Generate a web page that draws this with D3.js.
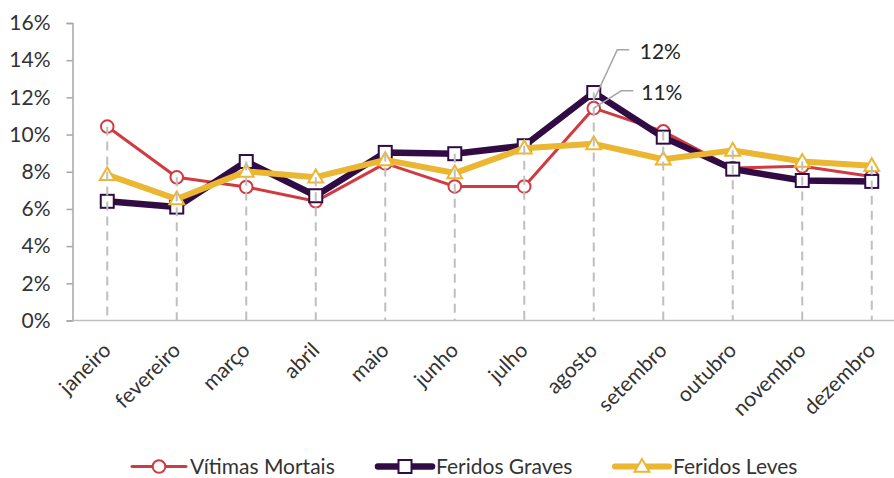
<!DOCTYPE html>
<html lang="pt">
<head>
<meta charset="UTF-8">
<title>Vítimas por mês</title>
<script src="https://d3js.org/d3.v7.min.js"></script>
<style>
    body { margin: 0; background: #fff; }
    svg { display: block; font-family: Lato, "Open Sans", sans-serif; }
</style>
</head>
<body>
<div id="chart"></div>
<script>
// months on the x axis
var meses = ['janeiro', 'fevereiro', 'março', 'abril', 'maio', 'junho',
             'julho', 'agosto', 'setembro', 'outubro', 'novembro', 'dezembro'];

// share of the year, in %
var vitimasMortais = [10.43, 7.70, 7.18, 6.41, 8.45, 7.21, 7.21, 11.42, 10.17, 8.20, 8.29, 7.75];
var feridosGraves  = [6.41, 6.10, 8.55, 6.71, 9.04, 8.97, 9.40, 12.26, 9.86, 8.14, 7.53, 7.48];
var feridosLeves   = [7.84, 6.53, 8.02, 7.71, 8.64, 7.93, 9.27, 9.50, 8.67, 9.15, 8.55, 8.32];

var yTicks = [0, 2, 4, 6, 8, 10, 12, 14, 16];

var w = 894, h = 478;
var m = {top: 23, left: 72.5, bottom: 157.5};

var series = [
    {name: 'Vítimas Mortais', values: vitimasMortais, color: '#d13a41', width: 3, marker: 'circle'},
    {name: 'Feridos Graves', values: feridosGraves, color: '#310c44', width: 6.5, marker: 'square'},
    {name: 'Feridos Leves', values: feridosLeves, color: '#ebb631', width: 6, marker: 'triangle'}
];

var svg = d3.select('#chart').append('svg')
    .attr('width', w)
    .attr('height', h);

var x = d3.scaleBand()
    .domain(meses)
    .range([m.left, m.left + 69.5 * 12]);

var y = d3.scaleLinear()
    .domain([0, 16])
    .range([h - m.bottom, m.top]);

function cx(i) { return x(meses[i]) + x.bandwidth() / 2; }

// y axis
var yAxis = d3.axisLeft(y)
    .tickValues(yTicks)
    .tickSize(6)
    .tickPadding(16)
    .tickFormat(function(d) { return d + '%'; });

var gy = svg.append('g')
    .attr('transform', 'translate(' + m.left + ',0)')
    .call(yAxis);
gy.select('.domain').attr('stroke', '#a6a6a6').attr('stroke-width', 1.5);
gy.selectAll('.tick line').attr('stroke', '#a6a6a6').attr('stroke-width', 1.5);
gy.selectAll('.tick text')
    .attr('font-size', '21px')
    .attr('font-family', 'Lato, sans-serif')
    .attr('fill', '#333');

// x axis line, runs off the right edge
svg.append('line')
    .attr('x1', m.left).attr('x2', w)
    .attr('y1', y(0)).attr('y2', y(0))
    .attr('stroke', '#bfbfbf')
    .attr('stroke-width', 1.5);

// month labels
svg.append('g').selectAll('text')
    .data(meses)
    .enter()
    .append('text')
    .attr('transform', function(d, i) {
        return 'translate(' + (cx(i) + 5) + ',' + (y(0) + 31) + ') rotate(-45)';
    })
    .attr('text-anchor', 'end')
    .attr('font-size', '21px')
    .attr('fill', '#333')
    .text(function(d) { return d; });

// lines + markers
var line = d3.line()
    .x(function(d, i) { return cx(i); })
    .y(function(d) { return y(d); });

function drawMarker(g, type, px, py, color) {
    if (type === 'circle') {
        g.append('circle')
            .attr('cx', px).attr('cy', py).attr('r', 6.3)
            .attr('fill', '#fff').attr('stroke', color).attr('stroke-width', 2);
    } else if (type === 'square') {
        g.append('rect')
            .attr('x', px - 6.5).attr('y', py - 6.5)
            .attr('width', 13).attr('height', 13)
            .attr('fill', '#fff').attr('stroke', color).attr('stroke-width', 2);
    } else {
        g.append('path')
            .attr('d', d3.symbol().type(d3.symbolTriangle).size(95)())
            .attr('transform', 'translate(' + px + ',' + (py + 1) + ')')
            .attr('fill', '#fff').attr('stroke', color).attr('stroke-width', 2);
    }
}

series.forEach(function(s) {
    var g = svg.append('g');
    g.append('path')
        .datum(s.values)
        .attr('d', line)
        .attr('fill', 'none')
        .attr('stroke', s.color)
        .attr('stroke-width', s.width)
        .attr('stroke-linejoin', 'round');
    s.values.forEach(function(v, i) {
        drawMarker(g, s.marker, cx(i), y(v), s.color);
    });
});

// drop lines from the highest point down to the axis
svg.append('g').selectAll('line')
    .data(meses)
    .enter()
    .append('line')
    .attr('x1', function(d, i) { return cx(i); })
    .attr('x2', function(d, i) { return cx(i); })
    .attr('y1', function(d, i) {
        return y(d3.max(series, function(s) { return s.values[i]; }));
    })
    .attr('y2', y(0))
    .attr('stroke', '#bfbfbf')
    .attr('stroke-width', 2)
    .attr('stroke-dasharray', '9,6');

// data labels for agosto
var ago = meses.indexOf('agosto');
var labels = [
    {v: feridosGraves[ago], end: 8, elbowX: 23.5, elbowY: -42.7, textX: 46, textY: -34},
    {v: vitimasMortais[ago], end: 0, elbowX: 27.5, elbowY: -17.3, textX: 47.5, textY: -8}
];
labels.forEach(function(l) {
    var px = cx(ago), py = y(l.v);
    svg.append('polyline')
        .attr('points', [
            [px, py + l.end],
            [px + l.elbowX, py + l.elbowY],
            [px + l.elbowX + 12, py + l.elbowY]
        ].join(' '))
        .attr('fill', 'none')
        .attr('stroke', '#a6a6a6')
        .attr('stroke-width', 1.5);
    svg.append('text')
        .attr('x', px + l.textX)
        .attr('y', py + l.textY)
        .attr('font-size', '21px')
        .attr('fill', '#262626')
        .text(Math.round(l.v) + '%');
});

// legend
var legendX = [132, 378, 615];
var legend = svg.append('g');
series.forEach(function(s, i) {
    var lx = legendX[i], ly = 466.5;
    legend.append('line')
        .attr('x1', lx).attr('x2', lx + 54)
        .attr('y1', ly).attr('y2', ly)
        .attr('stroke', s.color)
        .attr('stroke-width', s.width)
        .attr('stroke-linecap', 'round');
    drawMarker(legend, s.marker, lx + 27, ly, s.color);
    legend.append('text')
        .attr('x', lx + 58)
        .attr('y', 474)
        .attr('font-size', '21px')
        .attr('fill', '#333')
        .text(s.name);
});
</script>
</body>
</html>
